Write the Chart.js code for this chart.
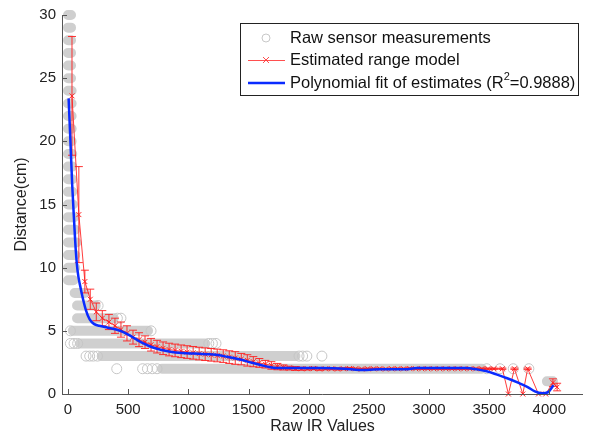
<!DOCTYPE html>
<html>
<head>
<meta charset="utf-8">
<script src="https://cdn.jsdelivr.net/npm/chart.js@4.4.1/dist/chart.umd.min.js"></script>
<style>
  html, body { margin: 0; padding: 0; background: #fff; }
</style>
</head>
<body>
<canvas id="chart" width="589" height="438"></canvas>
<script>
// Raw sensor measurements: dense rows of readings per integer distance (start/end of each row)
const rawRowDist = [30, 29, 28, 27, 26, 25, 24, 23, 22, 21, 20, 19, 18, 17, 16, 15, 14, 13, 12, 11, 10, 9, 8, 7, 6, 5, 4, 3, 2, 1];
const rawRowFrom = [0, 0, 0, 0, 0, 0, 0, 0, 0, 0, 0, 0, 0, 0, 0, 0, 0, 0, 0, 0, 0, 0, 55, 75, 75, 40, 100, 280, 780, 3980];
const rawRowTo   = [25, 25, 25, 25, 25, 25, 30, 30, 30, 30, 30, 35, 35, 35, 35, 40, 50, 60, 70, 60, 60, 45, 140, 230, 380, 665, 1140, 1890, 3440, 4030];
// isolated raw readings at the edges of the rows
const rawLooseX = [250, 410, 440, 20, 690, 20, 50, 80, 1170, 1200, 1230, 150, 180, 210, 245, 1920, 1950, 1985, 2110, 405, 620, 660, 700, 740, 3480, 3590, 3700, 3830];
const rawLooseY = [7, 6, 6, 5, 5, 4, 4, 4, 4, 4, 4, 3, 3, 3, 3, 3, 3, 3, 3, 2, 2, 2, 2, 2, 2, 2, 2, 2];

// Estimated range model (mean with error bar)
const estX = [33, 90, 140, 185, 235, 285, 340, 390, 440, 490, 540, 590, 640, 690, 740, 790, 840, 890, 940, 990,
  1040, 1090, 1140, 1190, 1240, 1290, 1340, 1390, 1440, 1490, 1540, 1590, 1640, 1690, 1740, 1790, 1840, 1890,
  1940, 1990, 2040, 2090, 2140, 2190, 2240, 2290, 2340, 2390, 2440, 2490, 2540, 2590, 2640, 2690, 2740, 2790,
  2840, 2890, 2940, 2990, 3040, 3090, 3140, 3190, 3240, 3290, 3340, 3390, 3440, 3490, 3540,
  3610, 3660, 3710, 3780, 3820, 3910, 3970, 4030, 4065];
const estY = [23.6, 14.2, 8.9, 7.5, 6.5, 6.0, 5.7, 5.4, 5.1, 4.8, 4.5, 4.3, 4.1, 3.9, 3.75, 3.62, 3.52, 3.45, 3.38, 3.32,
  3.26, 3.2, 3.15, 3.1, 3.05, 3.0, 2.92, 2.85, 2.76, 2.66, 2.56, 2.46, 2.36, 2.26, 2.17, 2.1, 2.05, 2.02,
  2.0, 2.0, 2.02, 1.98, 2.0, 2.0, 1.98, 2.0, 2.02, 2.0, 1.98, 2.0, 2.0, 2.0, 1.98, 2.0, 2.0, 2.0,
  2.02, 2.0, 2.0, 2.0, 2.0, 2.0, 2.0, 2.0, 2.0, 2.0, 2.0, 2.0, 2.0, 2.0, 2.0,
  2.0, 0.0, 2.0, 0.0, 2.0, 0.0, 0.0, 0.9, 0.55];
const estErr = [4.7, 3.8, 0.9, 0.8, 0.7, 0.6, 0.6, 0.6, 0.6, 0.6, 0.55, 0.55, 0.5, 0.5, 0.5, 0.5, 0.5, 0.5, 0.5, 0.5,
  0.5, 0.5, 0.5, 0.5, 0.5, 0.5, 0.5, 0.5, 0.45, 0.45, 0.4, 0.35, 0.3, 0.3, 0.25, 0.2, 0.15, 0.15,
  0.12, 0.1, 0.1, 0.1, 0.08, 0.08, 0.08, 0.08, 0.08, 0.05, 0.05, 0.05, 0.05, 0.05, 0.05, 0.05, 0.05, 0.05,
  0.05, 0.05, 0.05, 0.05, 0.05, 0.05, 0.05, 0.05, 0.05, 0.05, 0.05, 0.05, 0.05, 0.05, 0.05,
  0.05, 0.0, 0.05, 0.0, 0.05, 0.0, 0.0, 0.3, 0.3];

// Polynomial fit of estimates
const fitX = [5, 20, 35, 50, 65, 80, 100, 125, 150, 180, 215, 260, 330, 400, 460, 520, 580, 640, 700, 770, 850, 950,
  1050, 1150, 1230, 1320, 1420, 1520, 1600, 1680, 1760, 1900, 2100, 2300, 2420, 2600, 2800, 2900, 3100, 3300,
  3400, 3480, 3560, 3650, 3740, 3820, 3880, 3940, 3990, 4035];
const fitY = [23.4, 20.0, 16.5, 13.8, 11.3, 9.7, 8.6, 7.5, 6.6, 5.9, 5.55, 5.4, 5.25, 5.1, 4.9, 4.6, 4.25, 3.95, 3.7, 3.5, 3.35, 3.25,
  3.2, 3.15, 3.1, 2.95, 2.75, 2.5, 2.3, 2.12, 2.05, 2.05, 2.05, 2.0, 1.9, 1.95, 1.95, 2.05, 2.05, 2.05,
  1.95, 1.8, 1.55, 1.25, 0.9, 0.55, 0.2, 0.05, 0.15, 0.7];

const xTicks = [0, 500, 1000, 1500, 2000, 2500, 3000, 3500, 4000];
const yTicks = [0, 5, 10, 15, 20, 25, 30];

const FONT = '"Liberation Sans", Arial, Helvetica, sans-serif';
const AXIS = '#555';

const bandData = [];
rawRowDist.forEach((d, i) => {
  bandData.push({ x: rawRowFrom[i], y: d }, { x: rawRowTo[i], y: d }, { x: rawRowTo[i], y: null });
});

const errorBars = {
  id: 'errorBars',
  afterDatasetDraw(chart, args) {
    if (args.meta.label !== 'Estimated range model') return;
    const { ctx, scales: { x, y } } = chart;
    ctx.save();
    ctx.strokeStyle = 'rgba(255,30,30,0.9)';
    ctx.lineWidth = 1;
    estX.forEach((v, i) => {
      if (!estErr[i]) return;
      const px = x.getPixelForValue(v);
      const top = y.getPixelForValue(estY[i] + estErr[i]);
      const bot = y.getPixelForValue(estY[i] - estErr[i]);
      ctx.beginPath();
      ctx.moveTo(px, top); ctx.lineTo(px, bot);
      ctx.moveTo(px - 4, top); ctx.lineTo(px + 4, top);
      ctx.moveTo(px - 4, bot); ctx.lineTo(px + 4, bot);
      ctx.stroke();
    });
    ctx.restore();
  }
};

const axesLines = {
  id: 'axesLines',
  afterDraw(chart) {
    const { ctx, chartArea: a, scales: { x, y } } = chart;
    ctx.save();
    ctx.strokeStyle = AXIS;
    ctx.lineWidth = 1;
    ctx.beginPath();
    ctx.moveTo(a.left + 0.5, a.top); ctx.lineTo(a.left + 0.5, a.bottom + 0.5);
    ctx.lineTo(a.right, a.bottom + 0.5);
    xTicks.forEach(v => {
      const px = Math.round(x.getPixelForValue(v)) + 0.5;
      ctx.moveTo(px, a.bottom); ctx.lineTo(px, a.bottom - 5);
    });
    yTicks.forEach(v => {
      const py = Math.round(y.getPixelForValue(v)) + 0.5;
      ctx.moveTo(a.left, py); ctx.lineTo(a.left + 5, py);
    });
    ctx.stroke();
    ctx.restore();
  }
};

const legendBox = {
  id: 'legendBox',
  afterDraw(chart) {
    const ctx = chart.ctx;
    const L = 240, T = 23, R = 578, B = 95;
    ctx.save();
    ctx.fillStyle = '#fff';
    ctx.fillRect(L, T, R - L, B - T);
    ctx.strokeStyle = '#222';
    ctx.lineWidth = 1;
    ctx.strokeRect(L + 0.5, T + 0.5, R - L, B - T);
    const rows = [38, 60, 83];
    // raw marker
    ctx.strokeStyle = '#c8c8c8';
    ctx.beginPath(); ctx.arc(266, rows[0], 4, 0, Math.PI * 2); ctx.stroke();
    // estimate sample
    ctx.strokeStyle = 'rgba(255,60,60,0.9)';
    ctx.beginPath(); ctx.moveTo(248, rows[1] + 0.5); ctx.lineTo(285, rows[1] + 0.5);
    ctx.moveTo(263, rows[1] - 3); ctx.lineTo(269, rows[1] + 3);
    ctx.moveTo(269, rows[1] - 3); ctx.lineTo(263, rows[1] + 3);
    ctx.stroke();
    // fit sample
    ctx.strokeStyle = '#0a2bff';
    ctx.lineWidth = 2.5;
    ctx.beginPath(); ctx.moveTo(248, rows[2]); ctx.lineTo(285, rows[2]); ctx.stroke();
    // text
    ctx.fillStyle = '#111';
    ctx.textBaseline = 'middle';
    ctx.font = '16.5px ' + FONT;
    ctx.fillText('Raw sensor measurements', 290, rows[0]);
    ctx.fillText('Estimated range model', 290, rows[1]);
    let t = 'Polynomial fit of estimates (R';
    ctx.fillText(t, 290, rows[2]);
    let xx = 290 + ctx.measureText(t).width;
    ctx.font = '11px ' + FONT;
    ctx.fillText('2', xx, rows[2] - 6);
    xx += ctx.measureText('2').width;
    ctx.font = '16.5px ' + FONT;
    ctx.fillText('=0.9888)', xx, rows[2]);
    ctx.restore();
  }
};

new Chart(document.getElementById('chart'), {
  type: 'scatter',
  data: {
    datasets: [
      {
        label: 'Polynomial fit of estimates',
        type: 'line',
        data: fitX.map((v, i) => ({ x: v, y: fitY[i] })),
        borderColor: '#0a2bff',
        borderWidth: 2.5,
        pointRadius: 0,
        cubicInterpolationMode: 'monotone',
        fill: false,
        order: 1,
      },
      {
        label: 'Estimated range model',
        type: 'line',
        data: estX.map((v, i) => ({ x: v, y: estY[i] })),
        borderColor: 'rgba(255,40,40,0.9)',
        borderWidth: 1,
        pointStyle: 'crossRot',
        pointRadius: 3.5,
        pointBorderWidth: 1,
        pointBorderColor: 'rgba(255,30,30,0.95)',
        tension: 0,
        fill: false,
        order: 2,
        clip: 6,
      },
      {
        label: 'Raw sensor measurements',
        type: 'scatter',
        data: rawLooseX.map((v, i) => ({ x: v, y: rawLooseY[i] })),
        pointStyle: 'circle',
        pointRadius: 5,
        backgroundColor: 'rgba(255,255,255,0)',
        borderColor: '#c6c6c6',
        pointBorderWidth: 1,
        order: 3,
        clip: false,
      },
      {
        label: 'Raw rows',
        type: 'line',
        data: bandData,
        borderColor: '#cfcfcf',
        borderWidth: 10,
        borderCapStyle: 'round',
        pointRadius: 0,
        spanGaps: false,
        fill: false,
        order: 4,
        clip: false,
      },
    ],
  },
  options: {
    responsive: false,
    animation: false,
    events: [],
    layout: { padding: { top: 14, right: 6, left: 0, bottom: 0 } },
    plugins: {
      legend: { display: false },
      tooltip: { enabled: false },
    },
    scales: {
      x: {
        type: 'linear',
        min: -50,
        max: 4280,
        afterFit(s) { s.height = 44; },
        afterBuildTicks(s) { s.ticks = xTicks.map(v => ({ value: v })); },
        ticks: { color: '#222', font: { family: FONT, size: 15 }, padding: 7, maxRotation: 0, callback: v => String(v) },
        grid: { display: false, drawTicks: false },
        border: { display: false },
        title: { display: true, text: 'Raw IR Values', color: '#222', font: { family: FONT, size: 16 }, padding: { top: 0, bottom: 2 } },
      },
      y: {
        type: 'linear',
        min: 0,
        max: 30,
        afterFit(s) { s.width = 62; },
        afterBuildTicks(s) { s.ticks = yTicks.map(v => ({ value: v })); },
        ticks: { color: '#222', font: { family: FONT, size: 15 }, padding: 6, callback: v => String(v) },
        grid: { display: false, drawTicks: false },
        border: { display: false },
        title: { display: true, text: 'Distance(cm)', color: '#222', font: { family: FONT, size: 16 }, padding: { top: 12, bottom: 0 } },
      },
    },
  },
  plugins: [errorBars, axesLines, legendBox],
});
</script>
</body>
</html>
